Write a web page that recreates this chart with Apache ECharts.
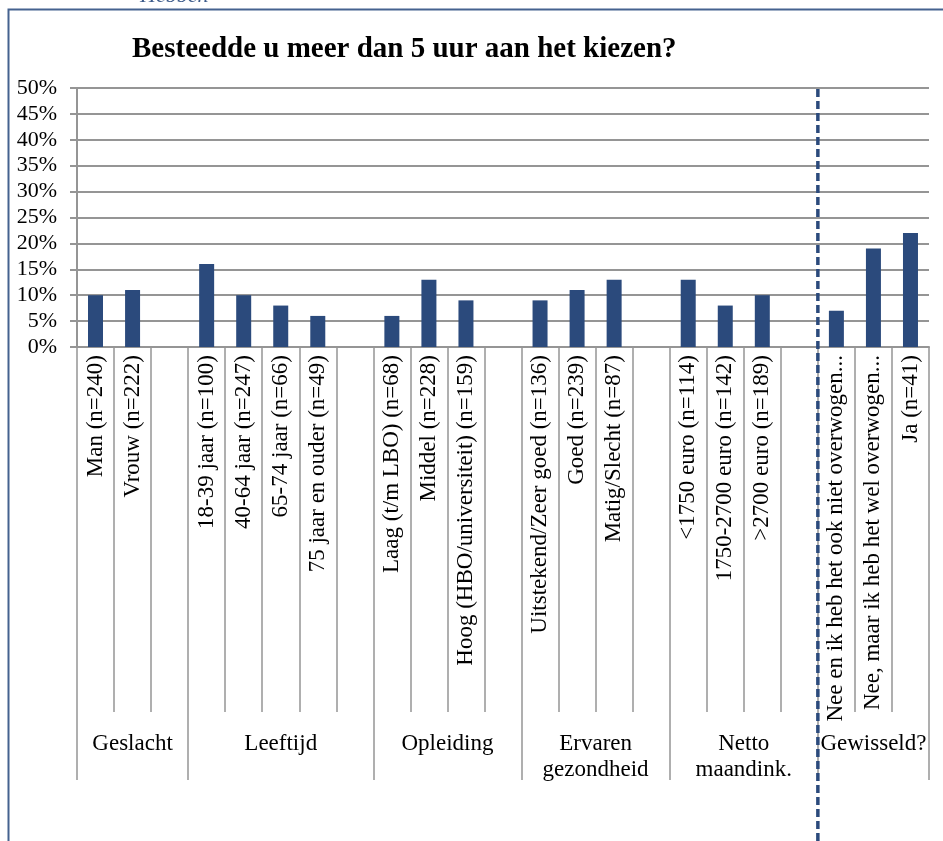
<!DOCTYPE html>
<html>
<head>
<meta charset="utf-8">
<script src="https://cdn.jsdelivr.net/npm/echarts@6/dist/echarts.min.js"></script>
<style>html,body{margin:0;padding:0;background:#fff}#c{width:943px;height:841px}</style>
</head>
<body>
<div id="c"></div>
<script>
// ---- data ----
var titleText = 'Besteedde u meer dan 5 uur aan het kiezen?';
var groupNames = ['Geslacht', 'Leeftijd', 'Opleiding', 'Ervaren\ngezondheid', 'Netto\nmaandink.', 'Gewisseld?'];
var catGeslacht = ['Man (n=240)', 'Vrouw (n=222)'];
var valGeslacht = [10, 11];
var catLeeftijd = ['18-39 jaar (n=100)', '40-64 jaar (n=247)', '65-74 jaar (n=66)', '75 jaar en ouder (n=49)'];
var valLeeftijd = [16, 10, 8, 6];
var catOpleiding = ['Laag (t/m LBO) (n=68)', 'Middel (n=228)', 'Hoog (HBO/universiteit) (n=159)'];
var valOpleiding = [6, 13, 9];
var catGezondheid = ['Uitstekend/Zeer goed (n=136)', 'Goed (n=239)', 'Matig/Slecht (n=87)'];
var valGezondheid = [9, 11, 13];
var catInkomen = ['<1750 euro (n=114)', '1750-2700 euro (n=142)', '>2700 euro (n=189)'];
var valInkomen = [13, 8, 10];
var catGewisseld = ['Nee en ik heb het ook niet overwogen...', 'Nee, maar ik heb het wel overwogen...', 'Ja (n=41)'];
var valGewisseld = [7, 19, 22];
var yTicks = [0, 5, 10, 15, 20, 25, 30, 35, 40, 45, 50];

// ---- build flat category list (with a blank slot after each group except the last) ----
var groupCats = [catGeslacht, catLeeftijd, catOpleiding, catGezondheid, catInkomen, catGewisseld];
var groupVals = [valGeslacht, valLeeftijd, valOpleiding, valGezondheid, valInkomen, valGewisseld];
var categories = [], values = [], boundaries = [0], centers = [];
var pos = 0;
groupCats.forEach(function (cats, gi) {
  var start = pos;
  cats.forEach(function (c, i) { categories.push(c); values.push(groupVals[gi][i]); pos++; });
  if (gi < groupCats.length - 1) { categories.push(''); values.push('-'); pos++; }
  boundaries.push(pos);
  centers.push((start + pos) / 2);
});
var total = pos;
var dividerAt = boundaries[boundaries.length - 2];

var FONT = 'Liberation Serif';
var GRAY = '#959595';
var BLUE = '#2B4A7C';

var chart = echarts.init(document.getElementById('c'), null, { renderer: 'canvas' });
chart.setOption({
  animation: false,
  backgroundColor: '#fff',
  title: {
    text: titleText, left: 127, top: 30,
    textStyle: { fontFamily: FONT, fontSize: 29, fontWeight: 'bold', color: '#000' }
  },
  graphic: [
    { type: 'rect', shape: { x: 8.5, y: 9.5, width: 1000, height: 900 }, style: { fill: 'none', stroke: '#45628F', lineWidth: 2 }, silent: true },
    { type: 'text', left: 140, top: -15, style: { text: 'Hebben', fontFamily: FONT, fontStyle: 'italic', fontSize: 22, fill: '#3B5A8A' }, silent: true }
  ],
  grid: [
    { left: 77, top: 88, width: 852, height: 259 },
    { left: 77, top: 88, width: 852, height: 753 }
  ],
  xAxis: [
    {
      type: 'category', gridIndex: 0, data: categories, position: 'bottom',
      axisLine: { show: true, lineStyle: { color: GRAY, width: 2 } },
      axisTick: { show: true, interval: 0, length: 365, lineStyle: { color: GRAY, width: 1.5 } },
      axisLabel: { interval: 0, rotate: 90, margin: 8, fontFamily: FONT, fontSize: 23, color: '#000' }
    },
    {
      type: 'value', gridIndex: 0, min: 0, max: total, position: 'bottom',
      axisLine: { show: false }, splitLine: { show: false }, axisLabel: { show: false },
      axisTick: { show: true, customValues: boundaries, length: 433, lineStyle: { color: GRAY, width: 1.5 } }
    },
    {
      type: 'value', gridIndex: 0, min: 0, max: total, position: 'bottom', offset: 376,
      axisLine: { show: false }, splitLine: { show: false }, axisTick: { show: false },
      axisLabel: {
        show: true, customValues: centers, margin: 8, fontFamily: FONT, fontSize: 23, lineHeight: 26, color: '#000', align: 'center',
        formatter: function (v) {
          for (var i = 0; i < centers.length; i++) { if (Math.abs(centers[i] - v) < 1e-6) return groupNames[i]; }
          return '';
        }
      }
    },
    { type: 'value', gridIndex: 1, min: 0, max: total, show: false }
  ],
  yAxis: [
    {
      type: 'value', gridIndex: 0, min: 0, max: 50, interval: 5,
      axisLine: { show: true, lineStyle: { color: GRAY, width: 2 } },
      axisTick: { show: true, length: 7, lineStyle: { color: GRAY, width: 2 } },
      axisLabel: { formatter: '{value}%', margin: 20, fontFamily: FONT, fontSize: 22, color: '#000' },
      splitLine: { show: true, lineStyle: { color: GRAY, width: 2 } }
    },
    { type: 'value', gridIndex: 1, min: 0, max: 1, show: false }
  ],
  series: [
    {
      type: 'bar', xAxisIndex: 0, yAxisIndex: 0, data: values, barWidth: 15,
      itemStyle: { color: BLUE }, silent: true
    },
    {
      type: 'line', xAxisIndex: 3, yAxisIndex: 1, data: [[dividerAt, 0], [dividerAt, 1]],
      symbol: 'none', silent: true,
      lineStyle: { color: BLUE, width: 3.5, type: [8, 4] }
    }
  ]
});
</script>
</body>
</html>
